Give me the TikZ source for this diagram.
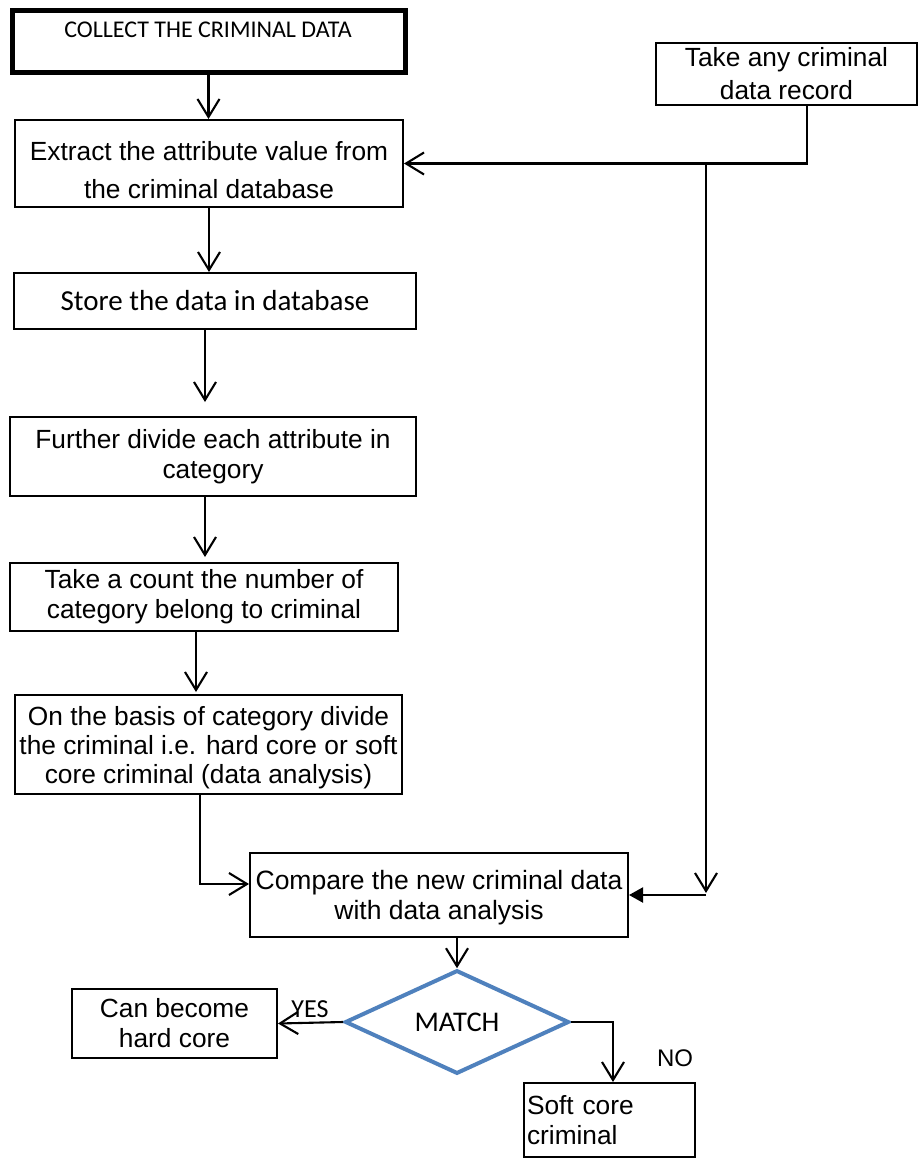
\documentclass[tikz,border=0pt]{standalone}
\usepackage{fontspec}
\setmainfont{Liberation Sans}
\newfontfamily\calibri{Carlito}
\usetikzlibrary{arrows.meta,shapes.geometric,calc}
\definecolor{diablue}{RGB}{79,129,189}
\begin{document}
\begin{tikzpicture}[x=1pt,y=-1pt,
  box/.style={draw, line width=2pt, inner sep=0pt, align=center,
    font=\fontsize{26.3}{30}\selectfont},
  arr/.style={line width=2.1pt, -{Straight Barb[length=18pt,width=22pt,line width=2.1pt]}},
  tri/.style={line width=2.1pt, -{Triangle[length=14pt,width=15pt]}},
  lbl/.style={inner sep=0pt}
]
\useasboundingbox[fill=white] (0,0) rectangle (918,1159);

% boxes
\node[box, line width=5pt, minimum width=393pt, minimum height=62pt] (b1) at (208.5,41) {};
\node[lbl, font=\calibri\fontsize{24}{28}\selectfont] (b1t) at (208,30) {COLLECT THE CRIMINAL DATA};

\node[box, minimum width=388pt, minimum height=87pt] (b2) at (209,163.5) {};
\node[lbl, align=center, font=\fontsize{26.3}{37.7}\selectfont] (b2t) at (209,170)
  {Extract the attribute value from\\the criminal database};

\node[box, minimum width=402pt, minimum height=56pt, font=\calibri\fontsize{29}{34}\selectfont] (b3) at (215,301)
  {Store the data in database};

\node[box, minimum width=406pt, minimum height=79pt] (b4) at (213,456.5)
  {Further divide each attribute in\\category};

\node[box, minimum width=388pt, minimum height=68pt] (b5) at (204,597)
  {Take a count the number of\\category belong to criminal};

\node[box, minimum width=387pt, minimum height=99pt] (b6) at (208.5,744.5) {};
\node[lbl, align=center, font=\fontsize{26.3}{29}\selectfont] (b6t) at (208.5,748)
  {On the basis of category divide\\the criminal i.e. hard core or soft\\core criminal (data analysis)};

\node[box, minimum width=261pt, minimum height=62pt, font=\fontsize{26.3}{33}\selectfont] (take) at (786.5,74)
  {Take any criminal\\data record};

\node[box, minimum width=378pt, minimum height=84pt] (cmp) at (439,895) {};
\node[lbl, align=center, font=\fontsize{26.5}{30}\selectfont] (cmpt) at (439,898)
  {Compare the new criminal data\\with data analysis};

\node[diamond, draw=diablue, line width=4pt, minimum width=224pt, minimum height=100pt, inner sep=0pt,
  font=\calibri\fontsize{28.5}{32}\selectfont] (dia) at (457,1022) {MATCH};

\node[box, minimum width=205pt, minimum height=69pt] (can) at (174.5,1023.5)
  {Can become\\hard core};

\node[box, minimum width=171pt, minimum height=74pt, text width=165pt, align=left] (soft) at (609.5,1120)
  {Soft core\\criminal};

\node[lbl, font=\calibri\fontsize{26}{30}\selectfont] (yes) at (310,1009) {YES};
\node[lbl, font=\fontsize{24}{28}\selectfont] (no) at (675,1058) {NO};

% connectors
\draw[arr] (b1.south) -- (b1.south |- b2.north);
\draw[arr] (b2.south) -- (b2.south |- b3.north);
\draw[arr, shorten >=14pt] ([xshift=-10pt]b3.south) -- ([xshift=-10pt]b3.south |- b4.north);
\draw[arr, shorten >=5pt] ([xshift=-8pt]b4.south) -- ([xshift=-8pt]b4.south |- b5.north);
\draw[arr, shorten >=2pt] ([xshift=-8pt]b5.south) -- ([xshift=-8pt]b5.south |- b6.north);
\draw[arr] ([xshift=-8.5pt]b6.south) |- ([yshift=11pt]cmp.west);

\draw[arr] ([xshift=20.5pt]take.south) |- (b2.east);
\coordinate (jt) at (706,163.5);
\coordinate (jb) at (706,895);
\draw[arr, shorten >=2pt] (jt) -- (jb);
\draw[tri] (jb) -- (cmp.east);

\draw[arr] (dia.north |- cmp.south) -- (dia.north);
\draw[arr] (dia.west) -- (can.east);
\draw[arr] (dia.east) -| ([xshift=3.5pt]soft.north);
\end{tikzpicture}
\end{document}
